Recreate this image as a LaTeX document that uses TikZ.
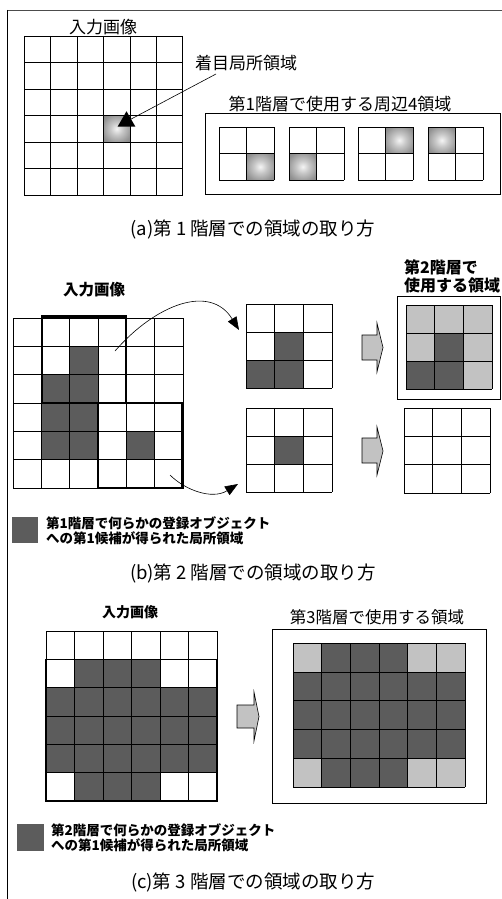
\documentclass[tikz,border=0pt]{standalone}
\usepackage{fontspec}
\setmainfont{Noto Sans CJK JP}
\usetikzlibrary{arrows.meta,shapes.geometric}
\pgfdeclareradialshading{cellglow}{\pgfpoint{0bp}{0bp}}{color(0bp)=(black!4);color(12bp)=(black!22);color(28bp)=(black!42);color(42bp)=(black!52);color(50bp)=(black!54)}
\newcommand\gridlines[6]{%
  \foreach \i in {0,...,#5} {\draw[gl] ({#1+\i*#3},#2) -- ({#1+\i*#3},{#2+#6*#4});}
  \foreach \j in {0,...,#6} {\draw[gl] (#1,{#2+\j*#4}) -- ({#1+#5*#3},{#2+\j*#4});}
}
\newcommand\cellfill[7]{\fill[#1] ({#2+#6*#4},{#3+#7*#5}) rectangle ++(#4,#5);}
\newcommand\cellglow[6]{\shade[shading=cellglow] ({#1+#5*#3},{#2+#6*#4}) rectangle ++(#3,#4);}
\tikzset{
  gl/.style={draw=black, line width=0.6pt},
  dark/.style={fill=black!64},
  light/.style={fill=black!24},
  thickbox/.style={draw=black, line width=2.4pt},
  frame/.style={draw=black, line width=0.8pt},
  blockarr/.style={draw=black, line width=0.6pt, fill=black!24},
  curvearr/.style={draw=black, line width=0.6pt, -{Triangle[length=13pt,width=10pt]}},
  lbl/.style={inner sep=0pt},
}
\begin{document}
\begin{tikzpicture}[x=1pt,y=-1pt]
\useasboundingbox (0,0) rectangle (502,899);
% outer frame
\draw[line width=0.7pt, black!70] (7,10) -- (502,10);
\draw[line width=1pt] (7,10) -- (7,899);

% ---------------- (a) ----------------
\cellglow{24.3}{36}{26.4}{26.5}{3}{3}
\gridlines{24.3}{36}{26.4}{26.5}{6}{6}
\node[lbl, font=\fontsize{17}{20}\selectfont] (a-in) at (103,27) {入力画像};
\node[lbl, font=\fontsize{17}{20}\selectfont] (a-focus) at (246,63) {着目局所領域};
\node[regular polygon, regular polygon sides=3, fill=black, inner sep=0pt, minimum size=20.5pt] (a-tri) at (126.5,121.5) {};
\coordinate (a-fs) at (216,74);
\draw[line width=0.6pt] (a-fs) -- (a-tri);
\node[lbl, font=\fontsize{17}{20}\selectfont] (a-four) at (340,104) {第1階層で使用する周辺4領域};
\draw[frame] (205,113) rectangle (500,194);
\cellglow{219}{127}{27.5}{26.5}{1}{1}
\gridlines{219}{127}{27.5}{26.5}{2}{2}
\cellglow{289}{127}{27.5}{26.5}{0}{1}
\gridlines{289}{127}{27.5}{26.5}{2}{2}
\cellglow{358}{127}{27.5}{26.5}{1}{0}
\gridlines{358}{127}{27.5}{26.5}{2}{2}
\cellglow{428}{127}{27.5}{26.5}{0}{0}
\gridlines{428}{127}{27.5}{26.5}{2}{2}
\node[lbl, font=\fontsize{18.5}{20}\selectfont] (a-cap) at (253,229) {(a)第 1 階層での領域の取り方};

% ---------------- (b) ----------------
\node[lbl, font=\fontsize{15.5}{18}\selectfont\bfseries] (b-in) at (94,290) {入力画像};
\node[lbl, anchor=west, align=left, font=\fontsize{16}{18}\selectfont\bfseries] (b-use) at (404,276) {第2階層で\\使用する領域};
\foreach \c/\r in {2/1,1/2,2/2,1/3,2/3,1/4,2/4,4/4} {\cellfill{dark}{13}{318}{28.333}{28.333}{\c}{\r}}
\gridlines{13}{318}{28.333}{28.333}{6}{6}
\draw[thickbox] (41.7,316.5) rectangle (126,403);
\draw[thickbox] (97.7,403) rectangle (182.5,488);
% middle grids
\foreach \c/\r in {1/1,0/2,1/2} {\cellfill{dark}{246}{304}{28.667}{28}{\c}{\r}}
\gridlines{246}{304}{28.667}{28}{3}{3}
\cellfill{dark}{246}{408}{28.667}{28}{1}{1}
\gridlines{246}{408}{28.667}{28}{3}{3}
% curved arrows
\coordinate (b-s1) at (115,351);
\coordinate (b-e1) at (239,330);
\draw[curvearr] (b-s1) .. controls (155,305) and (210,283) .. (b-e1);
\coordinate (b-s2) at (170,475);
\coordinate (b-e2) at (238,484);
\draw[curvearr] (b-s2) .. controls (185,490) and (212,500) .. (b-e2);
% block arrows
\draw[blockarr] (362,335) -- (377,335) -- (377,323) -- (383,347.5) -- (377,372) -- (377,360) -- (362,360) -- cycle;
\draw[blockarr] (362,438) -- (377,438) -- (377,427) -- (383,451) -- (377,475) -- (377,463) -- (362,463) -- cycle;
% right grids
\draw[frame, fill=white] (397,296) rectangle (500,399);
\foreach \c/\r in {0/0,1/0,2/0,0/1,2/1,2/2} {\cellfill{light}{406}{305}{28.667}{28}{\c}{\r}}
\foreach \c/\r in {1/1,0/2,1/2} {\cellfill{dark}{406}{305}{28.667}{28}{\c}{\r}}
\gridlines{406}{305}{28.667}{28}{3}{3}
\gridlines{404}{408}{28.667}{28.333}{3}{3}
% legend
\fill[black!64] (12,517) rectangle (38,543);
\node[lbl, anchor=west, align=left, font=\fontsize{13.5}{15}\selectfont\bfseries] (b-leg) at (46,530.5) {第1階層で何らかの登録オブジェクト\\への第1候補が得られた局所領域};
\node[lbl, font=\fontsize{18.5}{20}\selectfont] (b-cap) at (253,573) {(b)第 2 階層での領域の取り方};

% ---------------- (c) ----------------
\node[lbl, font=\fontsize{14}{16}\selectfont\bfseries] (c-in) at (130,612) {入力画像};
\node[lbl, font=\fontsize{16.5}{18}\selectfont] (c-use) at (377,617) {第3階層で使用する領域};
\foreach \c in {1,2,3} {\cellfill{dark}{46}{631}{28.5}{28.333}{\c}{1}}
\foreach \c in {0,...,5} {\foreach \r in {2,3,4} {\cellfill{dark}{46}{631}{28.5}{28.333}{\c}{\r}}}
\foreach \c in {1,2,3} {\cellfill{dark}{46}{631}{28.5}{28.333}{\c}{5}}
\gridlines{46}{631}{28.5}{28.333}{6}{6}
\draw[line width=1.5pt] (46,659.3) rectangle (217,801);
\draw[line width=1.5pt] (131.5,659.3) -- (131.5,801);
% block arrow
\draw[blockarr] (237,705) -- (254,705) -- (254,692) -- (259,716.5) -- (254,741) -- (254,728) -- (237,728) -- cycle;
% right box
\draw[frame] (272,629) rectangle (486,803);
\foreach \c/\r in {0/0,4/0,5/0,0/4,4/4,5/4} {\cellfill{light}{293}{643}{28.667}{28.8}{\c}{\r}}
\foreach \c/\r in {1/0,2/0,3/0,1/4,2/4,3/4} {\cellfill{dark}{293}{643}{28.667}{28.8}{\c}{\r}}
\foreach \c in {0,...,5} {\foreach \r in {1,2,3} {\cellfill{dark}{293}{643}{28.667}{28.8}{\c}{\r}}}
\gridlines{293}{643}{28.667}{28.8}{6}{5}
% legend
\fill[black!64] (17,824) rectangle (44,851);
\node[lbl, anchor=west, align=left, font=\fontsize{13.5}{15}\selectfont\bfseries] (c-leg) at (51,837.5) {第2階層で何らかの登録オブジェクト\\への第1候補が得られた局所領域};
\node[lbl, font=\fontsize{18.5}{20}\selectfont] (c-cap) at (253,882) {(c)第 3 階層での領域の取り方};
\end{tikzpicture}
\end{document}
